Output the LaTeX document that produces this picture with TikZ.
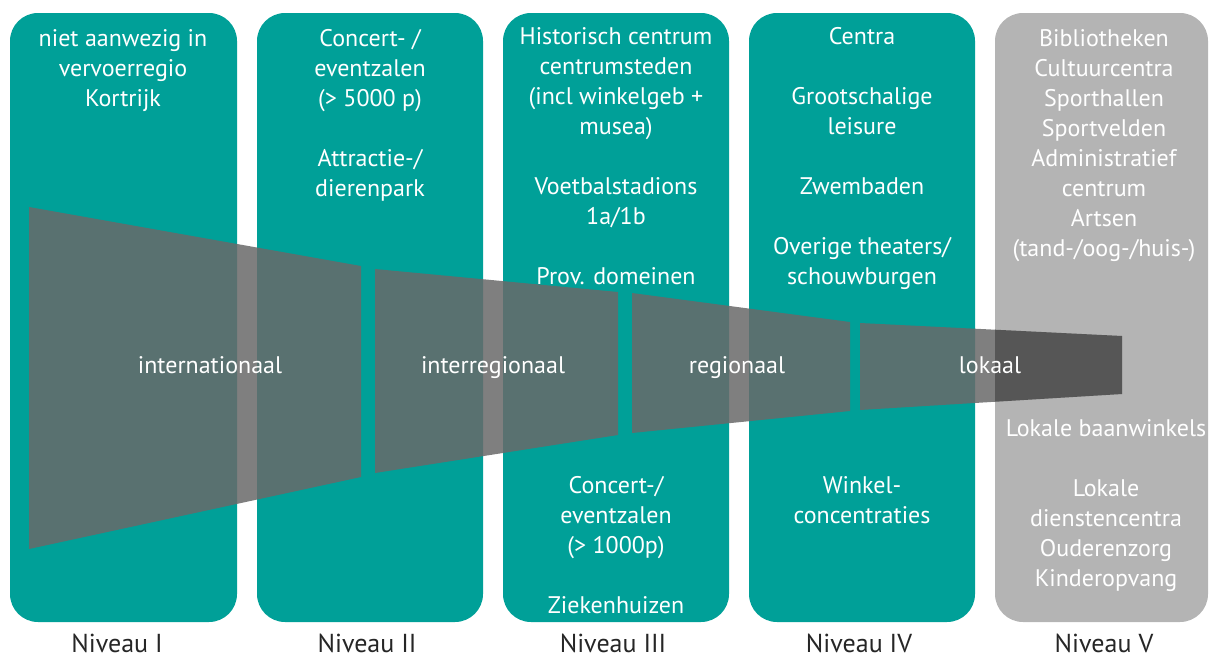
\documentclass[tikz,border=0pt]{standalone}
\usepackage{fontspec}
\setmainfont{PT Sans}
\definecolor{niveaugroen}{RGB}{0,160,152}
\definecolor{niveaugrijs}{RGB}{180,180,180}
\definecolor{trechtergrijs}{RGB}{105,105,105}

\begin{document}
\begin{tikzpicture}[x=1pt, y=-1pt, font=\fontsize{24}{30}\selectfont,
  kolom/.style={fill=niveaugroen, rounded corners=28pt},
  stuk/.style={fill=trechtergrijs, fill opacity=0.85},
  tekst/.style={text=white, align=center, anchor=base, inner sep=0pt},
  niveau/.style={text=black!85, anchor=base, inner sep=0pt, font=\fontsize{26}{30}\selectfont}]
  \useasboundingbox (0,0) rectangle (1209,659);
  % --- kolommen ---
  \fill[kolom] (10,13) rectangle (237,622);
  \fill[kolom] (257,13) rectangle (483,622);
  \fill[kolom] (503,13) rectangle (729,622);
  \fill[kolom] (749,13) rectangle (975,622);
  \fill[kolom, fill=niveaugrijs] (995,13) rectangle (1208,622);
  % --- trechter ---
  \fill[stuk] (29,207) -- (361,266) -- (361,477) -- (29,549) -- cycle;
  \fill[stuk] (375,269) -- (618,292) -- (618,435) -- (375,473) -- cycle;
  \fill[stuk] (632,293) -- (850,322) -- (850,411) -- (632,433) -- cycle;
  \fill[stuk] (860,323) -- (1122,336) -- (1122,394) -- (860,410) -- cycle;
  \begin{scope}
    \clip (995,13) rectangle (1208,622);
    \fill[black, opacity=0.25] (860,323) -- (1122,336) -- (1122,394) -- (860,410) -- cycle;
  \end{scope}
  \node[tekst] (internationaal) at (210,373) {internationaal};
  \node[tekst] (interregionaal) at (493,373) {interregionaal};
  \node[tekst] (regionaal) at (737,373) {regionaal};
  \node[tekst] (lokaal) at (990,373) {lokaal};
  % --- teksten per niveau (anker = basislijn van laatste regel) ---
  \node[tekst] (n1boven) at (123,106) {niet aanwezig in\\vervoerregio\\Kortrijk};
  \node[tekst] (n2boven) at (370,196) {Concert- /\\eventzalen\\(> 5000 p)\\[30pt]Attractie-/\\dierenpark};
  \node[tekst] (n3boven) at (616,284) {Historisch centrum\\centrumsteden\\(incl winkelgeb +\\musea)\\[30pt]Voetbalstadions\\1a/1b\\[30pt]Prov. domeinen};
  \node[tekst] (n3onder) at (616,613) {Concert-/\\eventzalen\\(> 1000p)\\[30pt]Ziekenhuizen};
  \node[tekst] (n4boven) at (862,284) {Centra\\[30pt]Grootschalige\\leisure\\[30pt]Zwembaden\\[30pt]Overige theaters/\\schouwburgen};
  \node[tekst] (n4onder) at (862,523) {Winkel-\\concentraties};
  \node[tekst] (n5boven) at (1104,256) {Bibliotheken\\Cultuurcentra\\Sporthallen\\Sportvelden\\Administratief\\centrum\\Artsen\\(tand-/oog-/huis-)};
  \node[tekst] (n5onder) at (1106,586) {Lokale baanwinkels\\[30pt]Lokale\\dienstencentra\\Ouderenzorg\\Kinderopvang};
  % --- niveaus ---
  \node[niveau] (niveau1) at (117,652) {Niveau I};
  \node[niveau] (niveau2) at (367,652) {Niveau II};
  \node[niveau] (niveau3) at (613,652) {Niveau III};
  \node[niveau] (niveau4) at (859,652) {Niveau IV};
  \node[niveau] (niveau5) at (1104,652) {Niveau V};
\end{tikzpicture}
\end{document}
